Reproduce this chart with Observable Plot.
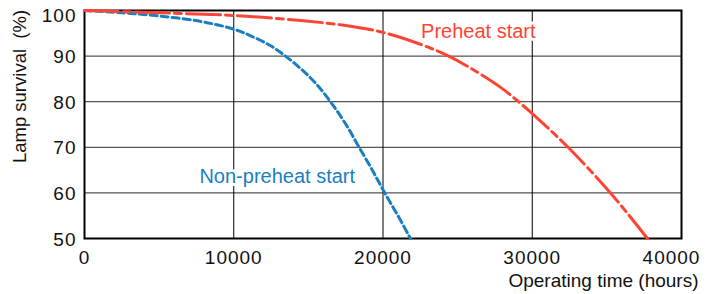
<!DOCTYPE html>
<html><head><meta charset="utf-8">
<script src="https://cdn.jsdelivr.net/npm/d3@7"></script>
<script src="https://cdn.jsdelivr.net/npm/@observablehq/plot@0.6"></script>
<style>
html,body{margin:0;padding:0;background:#fff;}
svg text{white-space:pre;}
</style></head><body><div id="chart"></div>
<script>
// Preheat start series
const preheatHours    = [0, 5000, 10000, 14500, 17500, 20000, 22500, 24400, 25850, 27860, 29080, 30000, 32400, 35240, 37720];
const preheatSurvival = [100, 99.5, 98.9, 97.8, 96.7, 95.2, 92.6, 90, 87.4, 83.2, 80, 77.4, 70, 60, 50];
// Non-preheat start series
const nonPreheatHours    = [0, 2500, 5000, 7800, 10000, 11100, 12500, 13460, 14500, 15500, 16480, 17500, 18400, 19300, 20100, 21000, 21840];
const nonPreheatSurvival = [100, 99.5, 98.8, 97.6, 95.9, 94.5, 92.2, 90, 87.2, 84.0, 80, 75.1, 70, 64.9, 60.1, 55.0, 50];

const seriesNames = ["Preheat start", "Non-preheat start"];
const labelHours = [22550, 7700];
const labelSurvival = [94.0, 62.2];

const xTicks = [0, 10000, 20000, 30000, 40000];
const yTicks = [50, 60, 70, 80, 90, 100];
const xTitle = "Operating time (hours)";
const yTitle = "Lamp survival  (%)";

const RED = "#ff4433";
const BLUE = "#1a7fc1";

const pre = preheatHours.map((h, i) => ({h, s: preheatSurvival[i]}));
const non = nonPreheatHours.map((h, i) => ({h, s: nonPreheatSurvival[i]}));

const chart = Plot.plot({
  width: 716,
  height: 294,
  marginLeft: 84,
  marginRight: 35,
  marginTop: 10,
  marginBottom: 56,
  style: {fontFamily: "'Liberation Sans', Arial, sans-serif", fontSize: "19px", color: "#111", background: "#fff"},
  x: {domain: [xTicks[0], xTicks[xTicks.length - 1]], label: null},
  y: {domain: [yTicks[0], yTicks[yTicks.length - 1]], label: null},
  marks: [
    Plot.gridY({ticks: yTicks.slice(1, -1), stroke: "#555", strokeOpacity: 1, strokeWidth: 1.3}),
    Plot.gridX({ticks: xTicks.slice(1, -1), stroke: "#000", strokeOpacity: 1, strokeWidth: 1}),
    Plot.frame({stroke: "#000", strokeWidth: 2}),
    Plot.axisX({ticks: xTicks.slice(0, -1), tickSize: 0, tickPadding: 12, tickFormat: "d", fontSize: 19, label: null}),
    Plot.axisX({ticks: xTicks.slice(-1), tickSize: 0, tickPadding: 12, tickFormat: "d", fontSize: 19, dx: -10, label: null}),
    Plot.axisY({ticks: yTicks.slice(0, -1), tickSize: 0, tickPadding: 8, fontSize: 19, dy: 1, label: null}),
    Plot.axisY({ticks: yTicks.slice(-1), tickSize: 0, tickPadding: 8, fontSize: 19, dy: 5, label: null}),
    Plot.text([yTitle], {text: d => d, frameAnchor: "top-left", rotate: -90, dx: -64, dy: 76, textAnchor: "middle", lineAnchor: "middle", fontSize: 18.5, fill: "#111"}),
    Plot.text([xTitle], {text: d => d, frameAnchor: "bottom-right", dx: 17, dy: 42, textAnchor: "end", lineAnchor: "middle", fontSize: 19, fill: "#111"}),
    Plot.line(non, {x: "h", y: "s", stroke: BLUE, strokeWidth: 3, strokeDasharray: "7,4", curve: "catmull-rom"}),
    Plot.line(pre, {x: "h", y: "s", stroke: RED, strokeWidth: 3, strokeDasharray: "34,5,7,5", curve: "catmull-rom"}),
    Plot.text([0], {x: () => labelHours[0], y: () => labelSurvival[0], text: () => seriesNames[0], fill: RED, stroke: "white", strokeWidth: 6, paintOrder: "stroke", fontSize: 20, textAnchor: "start", lineAnchor: "bottom"}),
    Plot.text([1], {x: () => labelHours[1], y: () => labelSurvival[1], text: () => seriesNames[1], fill: BLUE, stroke: "white", strokeWidth: 6, paintOrder: "stroke", fontSize: 20, textAnchor: "start", lineAnchor: "bottom"})
  ]
});
chart.querySelectorAll('[aria-label="x-axis tick label"] text, [aria-label="y-axis tick label"] text')
  .forEach(t => t.style.letterSpacing = "1px");
document.getElementById("chart").appendChild(chart);
</script>
</body></html>
